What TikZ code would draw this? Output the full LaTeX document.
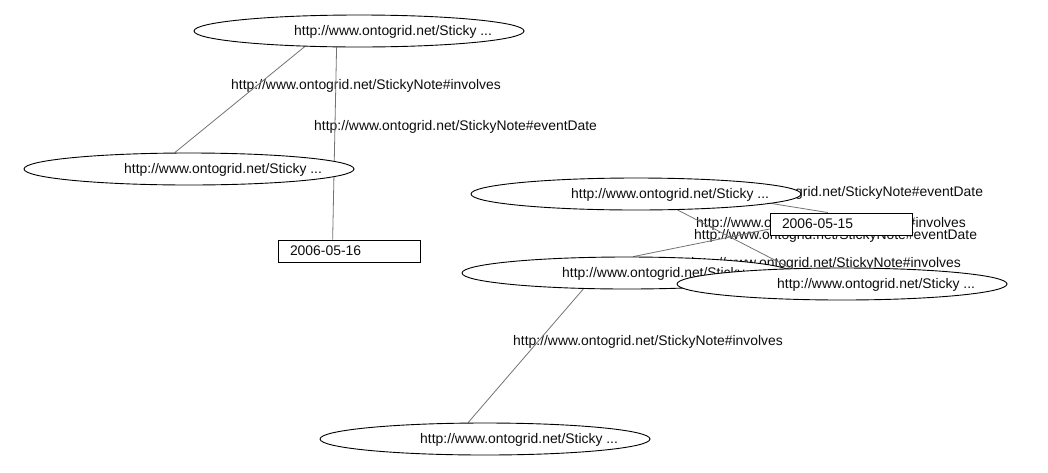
\documentclass[tikz,border=0pt]{standalone}
\usepackage{fontspec}
\setmainfont{Liberation Sans}
\usetikzlibrary{shapes.geometric}
\pgfdeclarelayer{bg}
\pgfsetlayers{bg,main}
\begin{document}
\begin{tikzpicture}[x=1pt,y=-1pt,
  font=\fontsize{13.9}{16}\selectfont,
  every node/.style={text=black!95},
  res/.style={ellipse,draw=black,line width=0.9pt,fill=white,minimum width=330pt,minimum height=32pt,inner sep=0pt},
  restext/.style={anchor=west,inner sep=0pt,xshift=-65pt,yshift=-1pt},
  lit/.style={rectangle,draw=black,line width=0.9pt,fill=white,minimum width=142pt,minimum height=22pt,inner xsep=12pt,inner ysep=0pt,text width=118pt,align=left},
  prop/.style={anchor=west,inner sep=0pt},
  link/.style={draw=black!55,line width=0.8pt}]
\useasboundingbox (0,0) rectangle (1048,472);

% left graph
\node[res] (e1) at (359,31) {};
\node[restext] (e1t) at (e1.center) {http://www.ontogrid.net/Sticky ...};
\node[res] (e2) at (189,169) {};
\node[restext] (e2t) at (e2.center) {http://www.ontogrid.net/Sticky ...};
\node[lit] (b1) at (349,251) {2006-05-16};

% right graph
\node[res] (e3) at (636,194) {};
\node[restext] (e3t) at (e3.center) {http://www.ontogrid.net/Sticky ...};
\node[lit] (b2) at (841,224) {2006-05-15};
\node[res] (e4) at (627,273) {};
\node[restext] (e4t) at (e4.center) {http://www.ontogrid.net/Sticky ...};
\node[res] (e5) at (842,284) {};
\node[restext] (e5t) at (e5.center) {http://www.ontogrid.net/Sticky ...};
\node[res] (e6) at (485,439) {};
\node[restext] (e6t) at (e6.center) {http://www.ontogrid.net/Sticky ...};

\begin{pgfonlayer}{bg}
  % property labels
  \node[prop] (p1) at (231,86) {http://www.ontogrid.net/StickyNote\#involves};
  \node[prop] (p2) at (314,127) {http://www.ontogrid.net/StickyNote\#eventDate};
  \node[prop] (p3) at (700,193) {http://www.ontogrid.net/StickyNote\#eventDate};
  \node[prop] (p4) at (696,224) {http://www.ontogrid.net/StickyNote\#involves};
  \node[prop] (p5) at (694,236) {http://www.ontogrid.net/StickyNote\#eventDate};
  \node[prop] (p6) at (691,264) {http://www.ontogrid.net/StickyNote\#involves};
  \node[prop] (p7) at (513,342) {http://www.ontogrid.net/StickyNote\#involves};
  % connectors
  \draw[link] (e1.-164.7) -- (e2.131.3);
  \draw[link] (e1.-144.2) -- (b1.145.5);
  \draw[link] (e3.-4.8) -- (b2.139.8);
  \draw[link] (e3.-21.7) -- (e5.163.7);
  \draw[link] (e4.69.4) -- (b2.-176.8);
  \draw[link] (e4.-160.2) -- (e6.136.9);
\end{pgfonlayer}
\end{tikzpicture}
\end{document}
